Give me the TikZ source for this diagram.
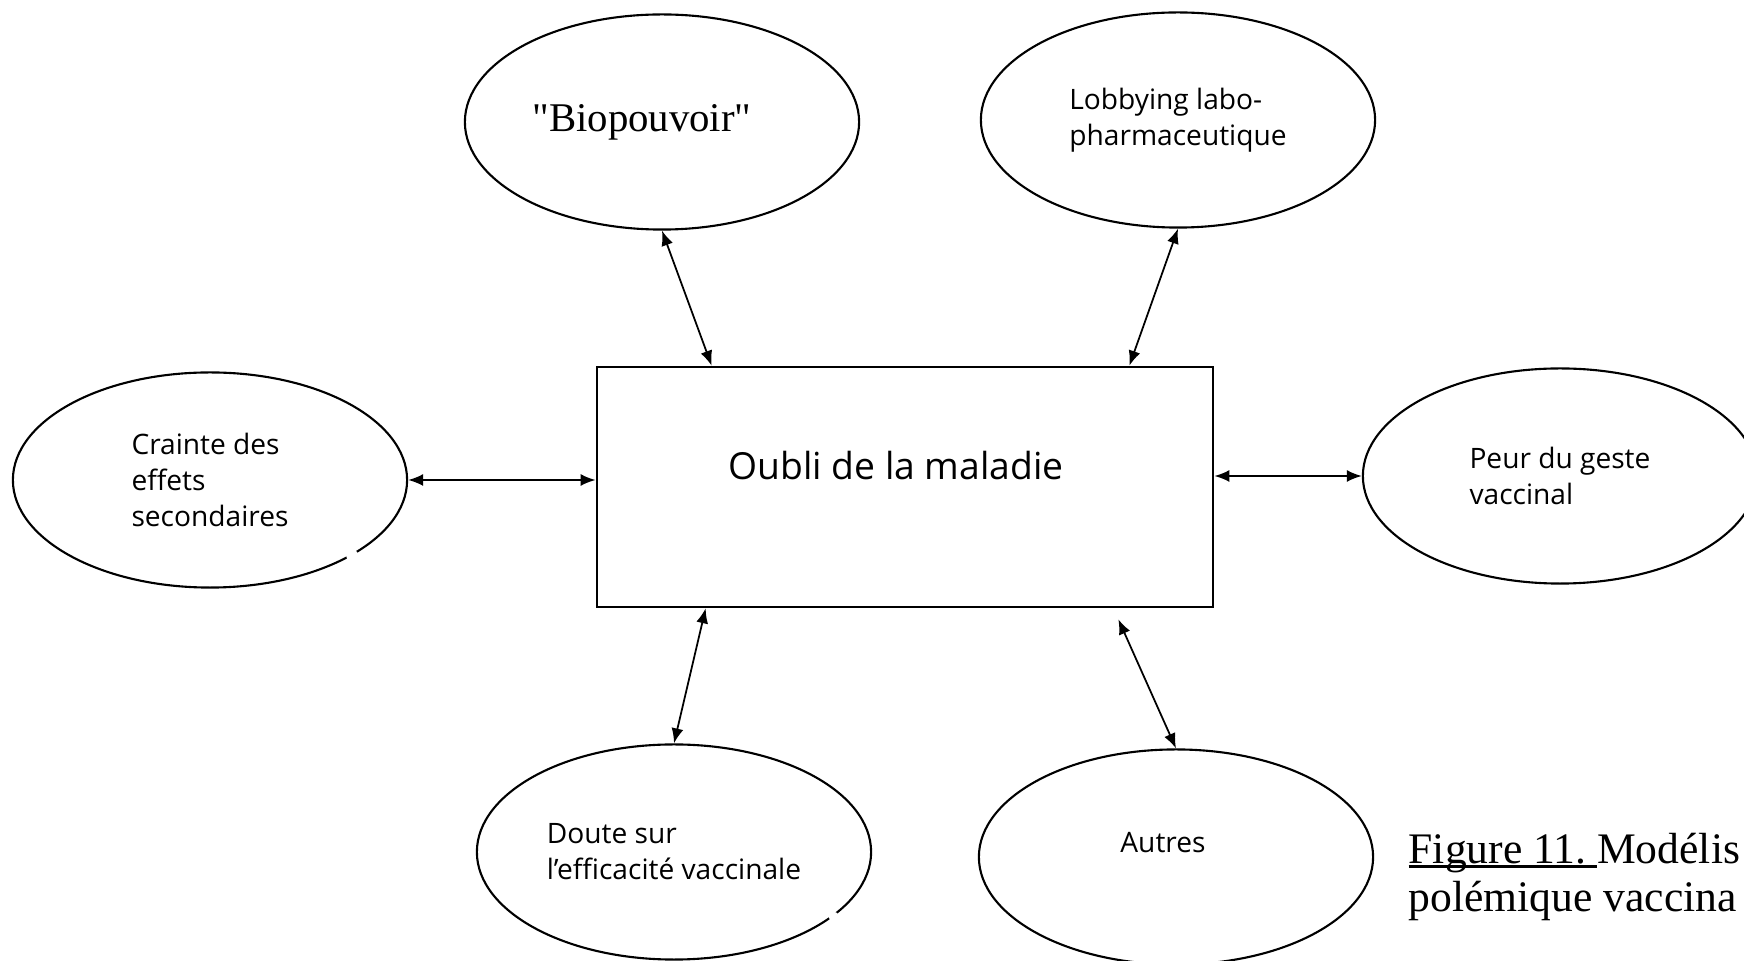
\documentclass[tikz,border=0pt]{standalone}
\usepackage{fontspec}
\setmainfont{Open Sans}
\newfontfamily\capserif{Liberation Serif}
\usetikzlibrary{arrows.meta,shapes.geometric}
\newcommand{\souligne}[1]{\setbox0\hbox{#1}\rlap{\rule[-1.3pt]{\wd0}{0.7pt}}\box0}
\tikzstyle{Bubble}=[ellipse, draw=black, line width=0.6pt, minimum width=3.94cm, minimum height=2.15cm, inner sep=0pt, align=left, font=\fontsize{8}{10.2}\selectfont]
\tikzstyle{Core}=[rectangle, draw=black, line width=0.7pt, minimum width=6.16cm, minimum height=2.4cm, text depth=12.5pt, font=\fontsize{10.6}{12}\selectfont]
\tikzstyle{Link}=[line width=0.5pt, {Latex[length=1.5mm,width=1.2mm]}-{Latex[length=1.5mm,width=1.2mm]}]

\begin{document}
\begin{tikzpicture}[x=0.01cm,y=-0.01cm]
    \useasboundingbox (0,0) rectangle (1744,961);
    \clip (0,0) rectangle (1744,961);
    \path
    (905,487) node[Core] (oubli) {\hbox{Oubli de la maladie\kern0.18cm}}
    (662,122) node[Bubble, font=\capserif\fontsize{11.6}{14}\selectfont] (bio) {\hbox{"Biopouvoir"\kern0.4cm}}
    (1178,120) node[Bubble] (lobby) {Lobbying labo-\\pharmaceutique}
    (210,480) node[Bubble] (crainte) {Crainte des\\effets\\secondaires}
    (1560,476) node[Bubble] (peur) {Peur du geste\\vaccinal}
    (674,852) node[Bubble] (doute) {Doute sur\\l'efficacité vaccinale}
    (1176,857) node[Bubble, text depth=0.3cm] (autres) {\hbox{Autres\kern0.26cm}};
    \path (1408,877) node[anchor=west, align=left, inner sep=0pt, font=\capserif\fontsize{12.4}{13.8}\selectfont] (legende) {\souligne{Figure 11.\ }Modélis\\polémique vaccina};

    % small breaks in two outlines
    \fill[white] (crainte.332) circle (0.06cm);
    \fill[white] (doute.338) circle (0.05cm);

    \draw[Link] (bio.south) -- ([xshift=1.16cm]oubli.north west);
    \draw[Link] (lobby.south) -- ([xshift=-0.85cm]oubli.north east);
    \draw[Link] (crainte.east) -- (crainte.east -| oubli.west);
    \draw[Link] (peur.west -| oubli.east) -- (peur.west);
    \draw[Link] ([xshift=1.10cm]oubli.south west) -- (doute.north);
    \draw[Link] ([xshift=-0.96cm,yshift=-0.11cm]oubli.south east) -- (autres.north);
\end{tikzpicture}
\end{document}
